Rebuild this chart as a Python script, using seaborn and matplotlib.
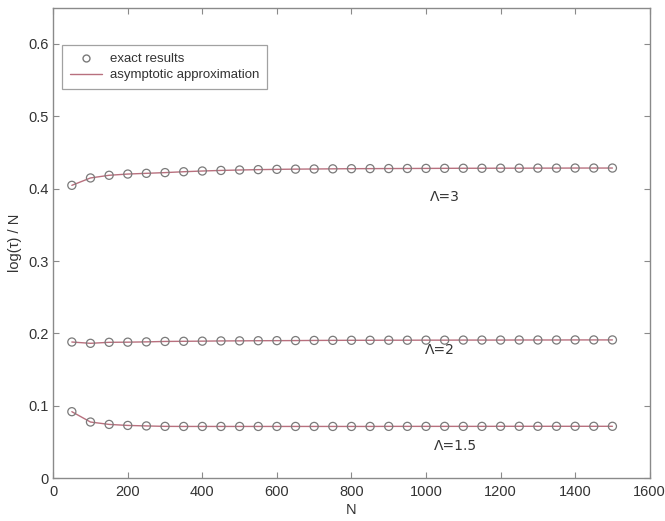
"""log(tau)/N versus N: exact results against asymptotic approximation."""
import matplotlib
matplotlib.use("Agg")
import matplotlib.pyplot as plt
import numpy as np
import pandas as pd
import seaborn as sns

# Data
N_VALUES = list(range(50, 1501, 50))

LAMBDA_LABELS = ["Λ=3", "Λ=2", "Λ=1.5"]

EXACT_L3 = [0.4046, 0.4148, 0.4185, 0.4202, 0.4212, 0.4222, 0.4234, 0.4244,
            0.4252, 0.4258, 0.4263, 0.4267, 0.4270, 0.4272, 0.4274, 0.4276,
            0.4277, 0.4278, 0.4279, 0.4280, 0.4281, 0.4282, 0.4282, 0.4283,
            0.4283, 0.4284, 0.4284, 0.4285, 0.4285, 0.4285]
EXACT_L2 = [0.1880, 0.1862, 0.1876, 0.1878, 0.1882, 0.1888, 0.1890, 0.1892,
            0.1895, 0.1896, 0.1898, 0.1899, 0.1900, 0.1902, 0.1903, 0.1904,
            0.1904, 0.1905, 0.1905, 0.1906, 0.1906, 0.1907, 0.1907, 0.1907,
            0.1908, 0.1908, 0.1908, 0.1909, 0.1909, 0.1909]
EXACT_L15 = [0.0917, 0.0774, 0.0741, 0.0727, 0.0720, 0.0714, 0.0713, 0.0713,
             0.0713, 0.0713, 0.0713, 0.0713, 0.0713, 0.0713, 0.0713, 0.0713,
             0.0713, 0.0714, 0.0714, 0.0714, 0.0714, 0.0714, 0.0714, 0.0715,
             0.0715, 0.0715, 0.0715, 0.0715, 0.0715, 0.0715]

# asymptotic curve sits on top of the exact points
ASYM_L3 = EXACT_L3
ASYM_L2 = EXACT_L2
ASYM_L15 = EXACT_L15

# label anchor points (N, value)
LABEL_N = [1050, 1037, 1080]
LABEL_Y = [0.389, 0.177, 0.044]

LINE_COLOR = "#b8707e"
MARKER_COLOR = "#7a7a7a"
FRAME_COLOR = "#8a8a8a"
TEXT_COLOR = "#333333"


def build_frame(values, kind):
    rows = []
    for lab, vals in zip(LAMBDA_LABELS, values):
        for n, v in zip(N_VALUES, vals):
            rows.append({"N": n, "value": v, "lambda": lab, "kind": kind})
    return pd.DataFrame(rows)


def main():
    exact = build_frame([EXACT_L3, EXACT_L2, EXACT_L15], "exact")
    asym = build_frame([ASYM_L3, ASYM_L2, ASYM_L15], "asym")

    sns.set_style("ticks")
    plt.rcParams["font.family"] = ["Liberation Sans", "DejaVu Sans"]

    fig = plt.figure(figsize=(6.65, 5.21), dpi=100)
    ax = fig.add_axes([0.080, 0.0825, 0.897, 0.9025])

    sns.lineplot(data=asym, x="N", y="value", units="lambda", estimator=None,
                 color=LINE_COLOR, linewidth=1.0, ax=ax, legend=False)
    sns.scatterplot(data=exact, x="N", y="value", marker="o", s=34,
                    facecolor="none", edgecolor=MARKER_COLOR, linewidth=0.9,
                    ax=ax, legend=False, zorder=3)

    for lab, xn, yv in zip(LAMBDA_LABELS, LABEL_N, LABEL_Y):
        ax.text(xn, yv, lab, ha="center", va="center", fontsize=10,
                color=TEXT_COLOR, family=["DejaVu Sans"])

    ax.set_xlim(0, 1600)
    ax.set_ylim(0, 0.65)
    ax.set_xticks(np.arange(0, 1601, 200))
    ax.set_yticks(np.arange(0, 0.61, 0.1))
    ax.set_yticklabels(["0", "0.1", "0.2", "0.3", "0.4", "0.5", "0.6"])
    ax.set_xlabel("N", fontsize=10.5, color=TEXT_COLOR, labelpad=3)
    ax.set_ylabel("log(τ) / N", fontsize=10.5, color=TEXT_COLOR, labelpad=4)

    ax.tick_params(direction="in", length=4, width=0.8, colors=FRAME_COLOR,
                   labelcolor=TEXT_COLOR, labelsize=10.5, top=True, right=True)
    ax.tick_params(axis="x", pad=5)
    for side in ax.spines.values():
        side.set_visible(True)
        side.set_color(FRAME_COLOR)
        side.set_linewidth(1.0)

    handles = [
        plt.Line2D([], [], marker="o", linestyle="none", markersize=5,
                   markerfacecolor="none", markeredgecolor=MARKER_COLOR),
        plt.Line2D([], [], color=LINE_COLOR, linewidth=1.0),
    ]
    leg = ax.legend(handles, ["exact results", "asymptotic approximation"],
                    loc="upper left", bbox_to_anchor=(0.004, 0.935),
                    fontsize=9.5, frameon=True, fancybox=False,
                    handlelength=2.4, handletextpad=0.6,
                    borderpad=0.6, labelspacing=0.3)
    leg.get_frame().set_edgecolor(FRAME_COLOR)
    leg.get_frame().set_linewidth(0.9)
    for t in leg.get_texts():
        t.set_color(TEXT_COLOR)

    fig.savefig("out.png", dpi=100)
    plt.close(fig)


if __name__ == "__main__":
    main()
